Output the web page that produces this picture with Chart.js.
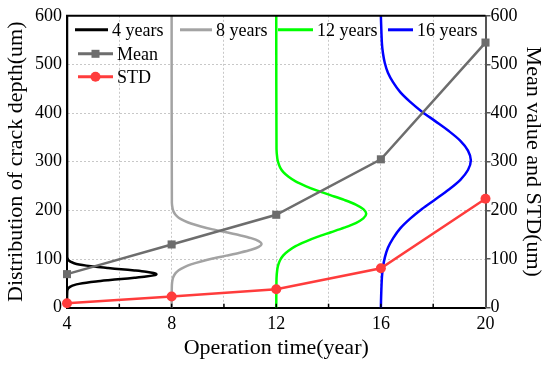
<!DOCTYPE html>
<html>
<head>
<meta charset="utf-8">
<script src="https://cdn.jsdelivr.net/npm/chart.js@4.4.1/dist/chart.umd.min.js"></script>
<style>
  body { margin: 0; background: #fff; }
  canvas { display: block; }
</style>
</head>
<body>
<canvas id="crackChart" width="550" height="367"></canvas>
<script>
// mean value and STD of crack depth per operation year (right axis)
const years = [4, 8, 12, 16, 20];
const meanDepth = [69, 130, 191, 305, 545];
const stdDepth = [9, 23, 38, 81, 224];

// distribution curves (depth in um, time in year)
const depth4 = [0, 34, 39, 41.5, 44, 46.5, 49, 51.5, 54, 56.5, 59, 61.5, 64, 66.5, 69, 71.5, 74, 76.5, 79, 81.5, 84, 86.5, 89, 91.5, 94, 96.5, 99, 104, 600];
const time4 = [4, 4.01, 4.04, 4.08, 4.15, 4.27, 4.46, 4.74, 5.11, 5.57, 6.07, 6.58, 7.02, 7.31, 7.42, 7.31, 7.02, 6.58, 6.07, 5.57, 5.11, 4.74, 4.46, 4.27, 4.15, 4.08, 4.04, 4.01, 4];

const depth8 = [0, 47, 59, 65, 71, 77, 83, 89, 95, 101, 107, 113, 119, 125, 131, 137, 143, 149, 155, 161, 167, 173, 179, 185, 191, 197, 203, 215, 600];
const time8 = [8, 8.01, 8.04, 8.08, 8.15, 8.27, 8.47, 8.74, 9.12, 9.57, 10.09, 10.60, 11.04, 11.33, 11.44, 11.33, 11.04, 10.60, 10.09, 9.57, 9.12, 8.74, 8.47, 8.27, 8.15, 8.08, 8.04, 8.01, 8];

const depth12 = [0, 60, 79, 88.5, 98, 107.5, 117, 126.5, 136, 145.5, 155, 164.5, 174, 183.5, 193, 202.5, 212, 221.5, 231, 240.5, 250, 259.5, 269, 278.5, 288, 297.5, 307, 326, 600];
const time12 = [12, 12.01, 12.04, 12.08, 12.15, 12.27, 12.47, 12.74, 13.12, 13.57, 14.09, 14.60, 15.04, 15.33, 15.44, 15.33, 15.04, 14.60, 14.09, 13.57, 13.12, 12.74, 12.47, 12.27, 12.15, 12.08, 12.04, 12.01, 12];

const depth16 = [0, 23, 63, 83, 103, 123, 143, 163, 183, 203, 223, 243, 263, 283, 303, 323, 343, 363, 383, 403, 423, 443, 463, 483, 503, 523, 543, 583, 600];
const time16 = [16, 16.01, 16.04, 16.08, 16.15, 16.27, 16.47, 16.74, 17.12, 17.57, 18.09, 18.60, 19.04, 19.33, 19.44, 19.33, 19.04, 18.60, 18.09, 17.57, 17.12, 16.74, 16.47, 16.27, 16.15, 16.08, 16.04, 16.01, 16];

const FONT = "'Liberation Serif', 'Times New Roman', serif";

function toPoints(xs, ys) {
    return xs.map((x, i) => ({ x: x, y: ys[i] }));
}

function curve(label, times, depths, color) {
    return {
        label: label,
        data: toPoints(times, depths),
        borderColor: color,
        borderWidth: 2.5,
        pointRadius: 0,
        showLine: true,
        tension: 0.3,
        yAxisID: 'y',
        order: 2
    };
}

// legend drawn by hand so it can sit in two blocks like the original
const legendRows = [
    { label: '4 years', color: '#000000', dx: 8, dy: 14, len: 33, marker: null },
    { label: '8 years', color: '#a3a3a3', dx: 113, dy: 14, len: 32, marker: null },
    { label: '12 years', color: '#00ff00', dx: 211, dy: 14, len: 35, marker: null },
    { label: '16 years', color: '#0000ff', dx: 321, dy: 14, len: 25, marker: null },
    { label: 'Mean', color: '#6d6d6d', dx: 11, dy: 38, len: 35, marker: 'rect' },
    { label: 'STD', color: '#ff3c3c', dx: 11, dy: 61, len: 35, marker: 'circle' }
];

const legendPlugin = {
    id: 'handLegend',
    afterDraw(chart) {
        const { ctx, chartArea } = chart;
        ctx.save();
        ctx.font = '18px ' + FONT;
        ctx.textBaseline = 'middle';
        legendRows.forEach(item => {
            const x = chartArea.left + item.dx;
            const y = chartArea.top + item.dy;
            ctx.strokeStyle = item.color;
            ctx.lineWidth = 3;
            ctx.beginPath();
            ctx.moveTo(x, y);
            ctx.lineTo(x + item.len, y);
            ctx.stroke();
            if (item.marker === 'rect') {
                ctx.fillStyle = item.color;
                ctx.fillRect(x + item.len / 2 - 4, y - 4, 8, 8);
            } else if (item.marker === 'circle') {
                ctx.fillStyle = item.color;
                ctx.beginPath();
                ctx.arc(x + item.len / 2, y, 5, 0, Math.PI * 2);
                ctx.fill();
            }
            ctx.fillStyle = '#000';
            ctx.fillText(item.label, x + item.len + 4, y + 1);
        });
        ctx.restore();
    }
};

// top frame line and small inward ticks on the time axis
const framePlugin = {
    id: 'frame',
    afterDatasetsDraw(chart) {
        const { ctx, chartArea, scales } = chart;
        ctx.save();
        ctx.strokeStyle = '#000';
        ctx.lineWidth = 1.5;
        scales.x.ticks.forEach(t => {
            if (t.value <= 4 || t.value >= 20) return;
            const px = scales.x.getPixelForValue(t.value);
            ctx.beginPath();
            ctx.moveTo(px, chartArea.bottom);
            ctx.lineTo(px, chartArea.bottom - 4);
            ctx.stroke();
        });
        ctx.lineWidth = 2;
        ctx.beginPath();
        ctx.moveTo(chartArea.left - 1, chartArea.top);
        ctx.lineTo(chartArea.right, chartArea.top);
        ctx.stroke();
        ctx.restore();
    }
};

const ctx = document.getElementById('crackChart').getContext('2d');
const crackChart = new Chart(ctx, {
    type: 'scatter',
    data: {
        datasets: [
            {
                label: 'Mean',
                data: toPoints(years, meanDepth),
                borderColor: '#6d6d6d',
                backgroundColor: '#6d6d6d',
                borderWidth: 2.5,
                showLine: true,
                pointStyle: 'rect',
                pointRadius: 5.7,
                pointBorderWidth: 0,
                yAxisID: 'y2',
                clip: false,
                order: 1
            },
            {
                label: 'STD',
                data: toPoints(years, stdDepth),
                borderColor: '#ff3c3c',
                backgroundColor: '#ff3c3c',
                borderWidth: 2.5,
                showLine: true,
                pointStyle: 'circle',
                pointRadius: 5,
                pointBorderWidth: 0,
                yAxisID: 'y2',
                clip: false,
                order: 0
            },
            curve('4 years', time4, depth4, '#000000'),
            curve('8 years', time8, depth8, '#a3a3a3'),
            curve('12 years', time12, depth12, '#00ff00'),
            curve('16 years', time16, depth16, '#0000ff')
        ]
    },
    options: {
        responsive: false,
        animation: false,
        layout: { padding: { top: 15.5, left: 0, right: 0, bottom: 0 } },
        plugins: {
            legend: { display: false },
            tooltip: { enabled: false }
        },
        scales: {
            x: {
                type: 'linear',
                min: 4,
                max: 20,
                ticks: {
                    stepSize: 2,
                    autoSkip: false,
                    maxRotation: 0,
                    padding: 6,
                    color: '#000',
                    font: { family: FONT, size: 18 },
                    callback: v => (v % 4 === 0 ? v : '')
                },
                grid: { color: '#c8c8c8', lineWidth: 1, drawTicks: false },
                border: { color: '#000', width: 2, dash: [2, 2] },
                title: {
                    display: true,
                    text: 'Operation time(year)',
                    color: '#000',
                    font: { family: FONT, size: 22 },
                    padding: 6
                },
                afterFit: s => { s.height = 59.3; }
            },
            y: {
                position: 'left',
                min: 0,
                max: 600,
                ticks: {
                    stepSize: 100,
                    padding: 5,
                    color: '#000',
                    font: { family: FONT, size: 18 }
                },
                grid: { color: '#c8c8c8', lineWidth: 1, drawTicks: false },
                border: { color: '#000', width: 2, dash: [2, 2] },
                title: {
                    display: true,
                    text: 'Distribution of crack depth(um)',
                    color: '#000',
                    font: { family: FONT, size: 22 },
                    padding: 3
                },
                afterFit: s => { s.width = 67; }
            },
            y2: {
                position: 'right',
                min: 0,
                max: 600,
                ticks: {
                    stepSize: 100,
                    padding: 0,
                    color: '#000',
                    font: { family: FONT, size: 18 }
                },
                grid: { drawOnChartArea: false, color: '#555', tickLength: 5, lineWidth: 1.5 },
                border: { color: '#555', width: 2 },
                title: {
                    display: true,
                    text: 'Mean value and STD(um)',
                    color: '#000',
                    font: { family: FONT, size: 22 },
                    padding: 4
                },
                afterFit: s => { s.width = 64.5; }
            }
        }
    },
    plugins: [legendPlugin, framePlugin]
});
</script>
</body>
</html>
